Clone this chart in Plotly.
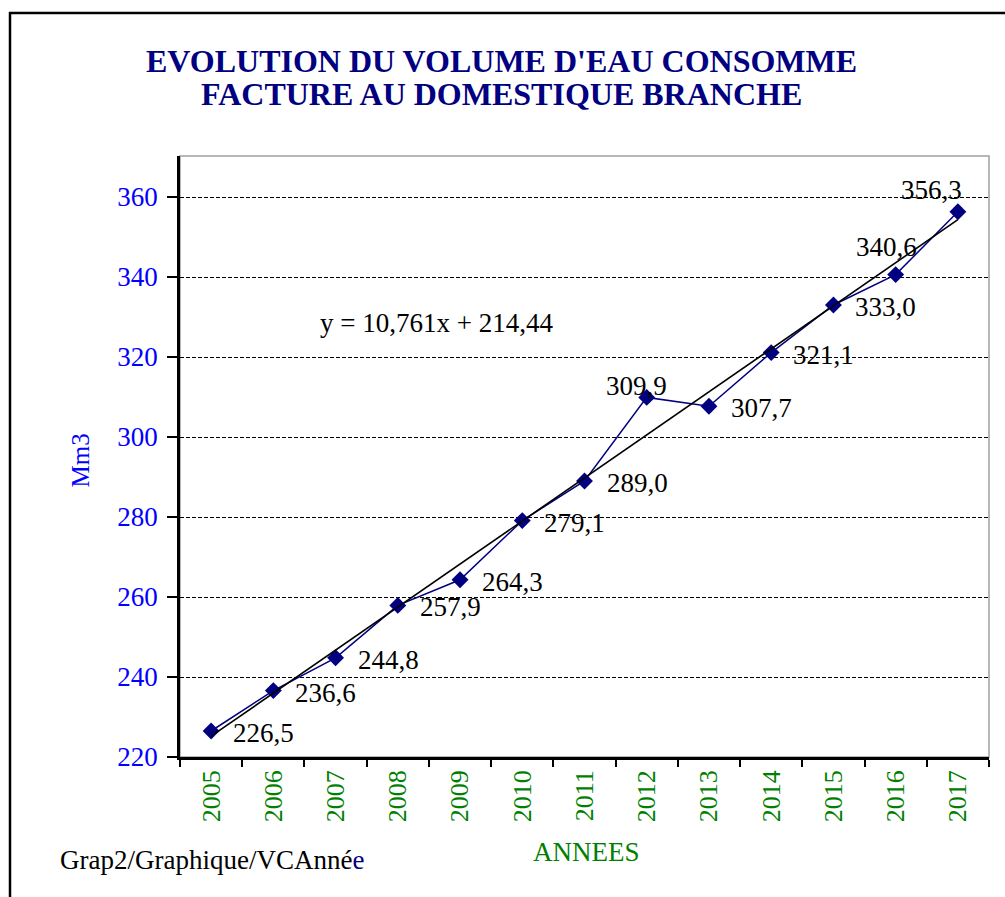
import plotly.graph_objects as go

years = ["2005", "2006", "2007", "2008", "2009", "2010", "2011",
         "2012", "2013", "2014", "2015", "2016", "2017"]
volumes = [226.5, 236.6, 244.8, 257.9, 264.3, 279.1, 289.0,
           309.9, 307.7, 321.1, 333.0, 340.6, 356.3]
# droite de tendance affichee sur le graphique : y = 10,761x + 214,44
trend_slope = 10.761
trend_intercept = 214.44
y_ticks = [220, 240, 260, 280, 300, 320, 340, 360]

serif = "Liberation Serif, Times New Roman, serif"
navy = "#000080"
green = "#008000"

W, H = 1005, 897
L, R, T, B = 180, 16, 156, 140
pw, ph = W - L - R, H - T - B


def px(x):
    return (x - L) / pw


def py(y):
    return 1 - (y - T) / ph


trend = [trend_slope * (i + 1) + trend_intercept for i in range(len(years))]

fig = go.Figure()

fig.add_trace(go.Scatter(
    x=years, y=volumes,
    mode="lines+markers",
    line=dict(color=navy, width=1.5),
    marker=dict(symbol="diamond", size=13, color=navy),
    cliponaxis=False,
))

fig.add_trace(go.Scatter(
    x=years, y=trend,
    mode="lines",
    line=dict(color="black", width=1.6),
))

# etiquettes des points (placement a la Excel)
# x = indice de la categorie, sinon "2005" est lu comme un indice
shifts = {7: ("center", -10, 11), 11: ("center", -9, 28), 12: ("center", -26, 22)}
for i, v in enumerate(volumes):
    anchor, dx, dy = shifts.get(i, ("left", 20, -2))
    fig.add_annotation(
        x=i, y=v, xref="x", yref="y",
        text=f"{v:.1f}".replace(".", ","),
        showarrow=False, xanchor=anchor, yanchor="middle",
        xshift=dx, yshift=dy,
        font=dict(family=serif, size=27, color="black"),
    )

# l'equation de la tendance
fig.add_annotation(
    x=px(318), y=py(323), xref="paper", yref="paper",
    text=f"y = {trend_slope:.3f}x + {trend_intercept:.2f}".replace(".", ","),
    showarrow=False, xanchor="left", yanchor="middle",
    font=dict(family=serif, size=27, color="black"),
)

# titre sur deux lignes
for txt, yc in [("EVOLUTION DU VOLUME D'EAU CONSOMME", 61),
                ("FACTURE AU DOMESTIQUE BRANCHE", 94)]:
    fig.add_annotation(
        x=px(501), y=py(yc), xref="paper", yref="paper",
        text=f"<b>{txt}</b>", showarrow=False, yanchor="middle",
        font=dict(family=serif, size=32, color=navy),
    )

fig.add_annotation(
    x=px(586), y=py(852), xref="paper", yref="paper",
    text="ANNEES", showarrow=False, yanchor="middle",
    font=dict(family=serif, size=27, color=green),
)

fig.add_annotation(
    x=px(64), y=py(461), xref="paper", yref="paper",
    text="Mm3", showarrow=False, textangle=-90,
    font=dict(family=serif, size=25, color="blue"),
)

fig.add_annotation(
    x=px(58), y=py(860), xref="paper", yref="paper",
    text="Grap2/Graphique/VCAnné<span style='color:#000080'>e</span>",
    showarrow=False, xanchor="left", yanchor="middle",
    font=dict(family=serif, size=27, color="black"),
)

# cadre de la page
fig.add_shape(type="line", xref="paper", yref="paper",
              x0=px(9), x1=px(1005), y0=py(13), y1=py(13),
              line=dict(color="black", width=2.5))
fig.add_shape(type="line", xref="paper", yref="paper",
              x0=px(10), x1=px(10), y0=py(12), y1=py(897),
              line=dict(color="black", width=2.5))
# bords haut et droit de la zone de trace
fig.add_shape(type="rect", xref="paper", yref="paper",
              x0=0, x1=1, y0=0, y1=1,
              line=dict(color="#a0a0a0", width=1.5), layer="below")

fig.update_layout(
    width=W, height=H,
    margin=dict(l=L, r=R, t=T, b=B),
    paper_bgcolor="white",
    plot_bgcolor="white",
    showlegend=False,
    font=dict(family=serif),
    xaxis=dict(
        type="category",
        range=[-0.5, 12.5],
        tickson="boundaries",
        ticks="outside", ticklen=7, tickcolor="black", tickwidth=1.5,
        tickangle=-90,
        tickfont=dict(family=serif, size=26, color=green),
        showline=True, linecolor="black", linewidth=2.5,
        showgrid=False,
    ),
    yaxis=dict(
        range=[220, 370.25],
        tickvals=y_ticks,
        ticks="outside", ticklen=10, tickcolor="black", tickwidth=1.5,
        ticklabelstandoff=4,
        tickfont=dict(family=serif, size=27, color="blue"),
        showline=True, linecolor="black", linewidth=2.5,
        showgrid=True, gridcolor="black", griddash="4px,2px", gridwidth=1.2,
        zeroline=False,
    ),
)

# pas de marge autour du graphique dans la page
fig.write_html("out.html", config={"displayModeBar": False},
               post_script="document.body.style.margin='0px';")
